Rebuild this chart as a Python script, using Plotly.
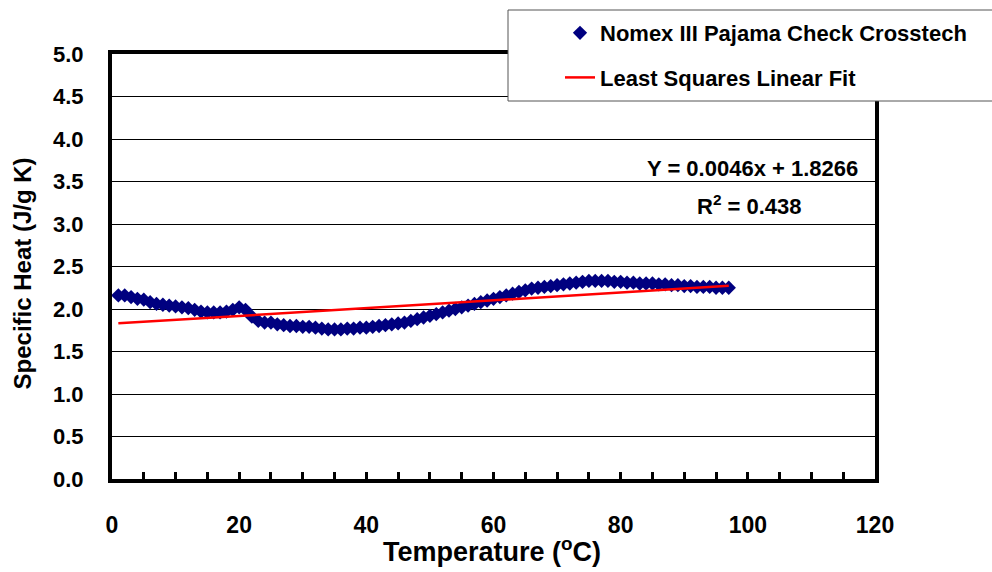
import plotly.graph_objects as go

# ---- data ----
temperature = list(range(1, 98))
specific_heat = [
    2.16, 2.16, 2.14, 2.12, 2.11, 2.08, 2.06, 2.05, 2.04, 2.03,
    2.02, 2.01, 1.99, 1.97, 1.96, 1.96, 1.96, 1.97, 1.99, 2.02,
    1.99, 1.91, 1.86, 1.84, 1.84, 1.82, 1.81, 1.80, 1.80, 1.79,
    1.79, 1.78, 1.77, 1.76, 1.76, 1.76, 1.77, 1.77, 1.78, 1.78,
    1.79, 1.80, 1.81, 1.82, 1.83, 1.84, 1.86, 1.88, 1.90, 1.92,
    1.94, 1.96, 1.98, 2.00, 2.02, 2.04, 2.06, 2.08, 2.10, 2.12,
    2.14, 2.16, 2.18, 2.20, 2.22, 2.24, 2.25, 2.26, 2.27, 2.28,
    2.29, 2.30, 2.31, 2.32, 2.33, 2.33, 2.33, 2.33, 2.32, 2.32,
    2.31, 2.31, 2.30, 2.30, 2.30, 2.29, 2.29, 2.28, 2.28, 2.27,
    2.27, 2.26, 2.26, 2.26, 2.25, 2.25, 2.25,
]
fit_slope = 0.0046
fit_intercept = 1.8266
fit_x = [1, 97]
fit_y = [fit_slope * v + fit_intercept for v in fit_x]

x_tick_vals = [0, 20, 40, 60, 80, 100, 120]
y_tick_vals = [0.0, 0.5, 1.0, 1.5, 2.0, 2.5, 3.0, 3.5, 4.0, 4.5, 5.0]
y_tick_text = ["0.0", "0.5", "1.0", "1.5", "2.0", "2.5", "3.0", "3.5", "4.0", "4.5", "5.0"]

FONT = "Arial, 'Liberation Sans', sans-serif"

fig = go.Figure()
fig.add_trace(go.Scatter(
    x=temperature, y=specific_heat, mode="markers",
    name="Nomex III Pajama Check Crosstech", legendgroup="a",
    marker=dict(symbol="diamond", size=11, color="#000080", line=dict(width=0)),
))
fig.add_trace(go.Scatter(
    x=fit_x, y=fit_y, mode="lines",
    name="Least Squares Linear Fit", legendgroup="b",
    line=dict(color="#ff0000", width=2.5),
))

# legend frame (extends past the right edge like the reference)
fig.add_shape(type="rect", xref="paper", yref="paper",
              x0=(508 - 112) / 763, x1=(1000 - 112) / 763,
              y0=1 + (51 - 98) / 425, y1=1 + (51 - 7) / 425,
              line=dict(color="#555555", width=1), fillcolor="white", layer="above")

fig.update_layout(
    width=992, height=572,
    margin=dict(l=112, r=117, t=51, b=93),
    paper_bgcolor="white", plot_bgcolor="white",
    font=dict(family=FONT, color="black"),
    showlegend=True,
    legend=dict(
        x=(560 - 112) / 763, y=1 + (51 - 9) / 425, xanchor="left", yanchor="top",
        bgcolor="rgba(0,0,0,0)", borderwidth=0,
        font=dict(family=FONT, size=22, weight="bold", color="black"),
        tracegroupgap=13, traceorder="grouped",
    ),
    xaxis=dict(
        range=[0, 120], tickvals=x_tick_vals,
        showgrid=False, zeroline=False,
        showline=True, linewidth=4, linecolor="black", mirror=True,
        ticks="inside", ticklen=7, tickwidth=3, tickcolor="black",
        minor=dict(dtick=5, ticks="inside", ticklen=7, tickwidth=3, tickcolor="black", showgrid=False),
        tickfont=dict(family=FONT, size=23, weight="bold"),
        ticklabelstandoff=22,
    ),
    yaxis=dict(
        range=[0, 5], tickvals=y_tick_vals, ticktext=y_tick_text,
        showgrid=True, gridcolor="black", gridwidth=1.3, zeroline=False,
        showline=True, linewidth=4, linecolor="black", mirror=True,
        ticks="", tickfont=dict(family=FONT, size=22, weight="bold"),
        ticklabelstandoff=20,
    ),
    annotations=[
        dict(text="Temperature (<sup>o</sup>C)", xref="paper", yref="paper",
             x=(492 - 112) / 763, y=-(551 - 479) / 428, xanchor="center", yanchor="middle",
             showarrow=False, font=dict(family=FONT, size=27, weight="bold")),
        dict(text="Specific Heat (J/g K)", xref="paper", yref="paper",
             x=-(112 - 22) / 763, y=(479 - 272) / 428, xanchor="center", yanchor="middle",
             textangle=-90, showarrow=False, font=dict(family=FONT, size=24, weight="bold")),
        dict(text="Y = 0.0046x + 1.8266", xref="x", yref="y",
             x=117.6, y=3.65, xanchor="right", yanchor="middle",
             showarrow=False, font=dict(family=FONT, size=22, weight="bold")),
        dict(text="R<sup>2</sup> = 0.438", xref="x", yref="y",
             x=100.3, y=3.22, xanchor="center", yanchor="middle",
             showarrow=False, font=dict(family=FONT, size=22, weight="bold")),
    ],
)

fig.write_html("out.html")
